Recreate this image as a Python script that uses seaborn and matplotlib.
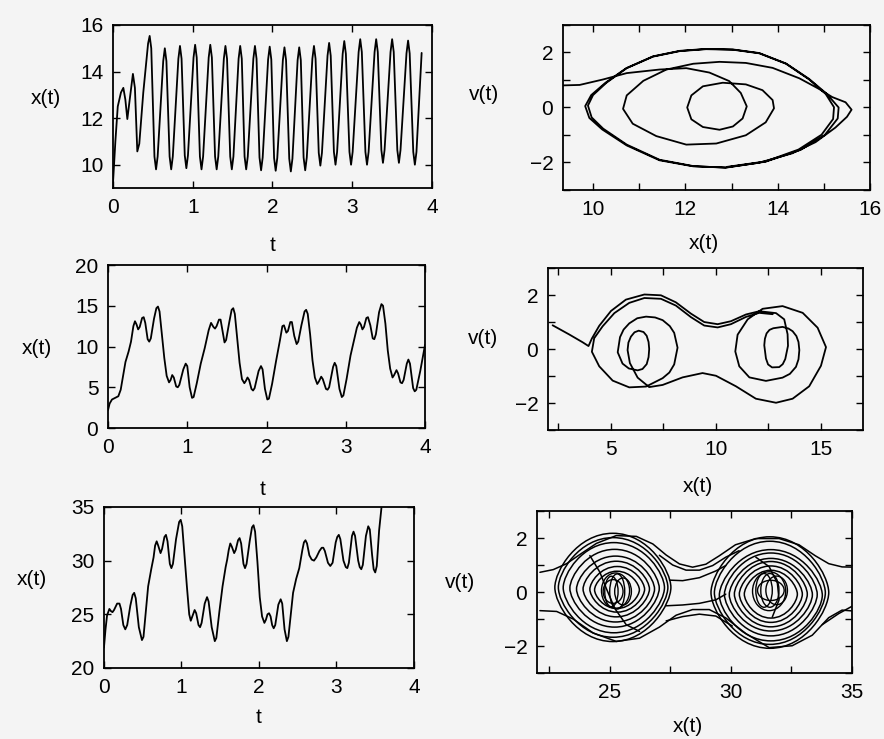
import matplotlib
matplotlib.use('Agg')
import matplotlib.pyplot as plt
import seaborn as sns
from matplotlib.patches import Ellipse, PathPatch
from matplotlib.path import Path
from matplotlib.ticker import MultipleLocator

# ---------------- data ----------------
# Panel A: x(t) time series (top left)
t_a = [0.0, 0.03, 0.06, 0.10, 0.13, 0.155, 0.18, 0.21, 0.25, 0.275, 0.305, 0.33, 0.38, 0.44, 0.46, 0.48,
       0.52, 0.54, 0.56, 0.63, 0.65, 0.67, 0.71, 0.73, 0.75, 0.82, 0.84, 0.86,
       0.90, 0.92, 0.94, 1.01, 1.03, 1.05, 1.09, 1.11, 1.13, 1.20, 1.22, 1.24,
       1.28, 1.30, 1.32, 1.39, 1.41, 1.43, 1.47, 1.49, 1.51, 1.575, 1.595, 1.615,
       1.65, 1.67, 1.69, 1.76, 1.78, 1.80, 1.837, 1.857, 1.877, 1.945, 1.965, 1.985,
       2.02, 2.04, 2.06, 2.13, 2.15, 2.17, 2.21, 2.23, 2.25, 2.315, 2.335, 2.355,
       2.39, 2.41, 2.43, 2.50, 2.52, 2.54, 2.58, 2.60, 2.62, 2.69, 2.71, 2.73,
       2.77, 2.79, 2.81, 2.88, 2.90, 2.92, 2.965, 2.985, 3.005, 3.08, 3.10, 3.12,
       3.165, 3.185, 3.205, 3.28, 3.30, 3.32, 3.365, 3.385, 3.405, 3.48, 3.50, 3.52,
       3.565, 3.585, 3.605, 3.68, 3.70, 3.72, 3.765, 3.785, 3.805, 3.87]
x_a = [9.2, 11.0, 12.5, 13.1, 13.3, 12.8, 11.96, 12.8, 13.9, 13.3, 10.57, 10.9, 13.1, 15.2, 15.53, 15.0,
       10.35, 9.8, 10.35, 14.45, 15.0, 14.45, 10.35, 9.8, 10.35, 14.55, 15.1, 14.55,
       10.4, 9.85, 10.4, 14.6, 15.15, 14.6, 10.35, 9.8, 10.35, 14.6, 15.15, 14.6,
       10.35, 9.8, 10.35, 14.55, 15.1, 14.55, 10.35, 9.8, 10.35, 14.55, 15.1, 14.55,
       10.35, 9.8, 10.35, 14.55, 15.1, 14.55, 10.31, 9.76, 10.31, 14.52, 15.07, 14.52,
       10.29, 9.74, 10.29, 14.49, 15.04, 14.49, 10.26, 9.71, 10.26, 14.49, 15.04, 14.49,
       10.31, 9.76, 10.31, 14.55, 15.1, 14.55, 10.51, 9.96, 10.51, 14.68, 15.23, 14.68,
       10.55, 10.0, 10.55, 14.76, 15.31, 14.76, 10.55, 10.0, 10.55, 14.84, 15.39, 14.84,
       10.55, 10.0, 10.55, 14.84, 15.39, 14.84, 10.63, 10.08, 10.63, 14.84, 15.39, 14.84,
       10.63, 10.08, 10.63, 14.78, 15.33, 14.78, 10.55, 10.0, 10.55, 14.8]

# Panel B: phase portrait (top right)
x_b = [9.28, 9.71, 10.22, 10.73, 11.44, 12.02, 12.52, 12.95, 13.2, 13.33,
       13.24, 13.03, 12.74, 12.38, 12.13, 12.04, 12.13, 12.38, 12.81, 13.31,
       13.67, 13.89, 13.92, 13.74, 13.31, 12.67, 12.02, 11.37, 10.86, 10.65,
       10.73, 11.09, 11.59, 12.17, 12.74, 13.31, 13.89, 14.47, 14.9, 15.18,
       15.47, 15.6, 15.5, 15.25, 14.82, 14.31, 13.59, 12.87, 12.17, 11.44,
       10.73, 10.2, 9.92, 9.83, 9.96, 10.27, 10.72, 11.3, 11.88, 12.45,
       13.03, 13.6, 14.18, 14.68, 15.06, 15.32, 15.3, 15.02, 14.5, 13.74,
       12.87, 12.17, 11.44, 10.73, 10.22, 9.97, 9.89, 10.0, 10.29, 10.73,
       11.3, 11.88, 12.45, 13.03, 13.6, 14.18, 14.68, 15.04, 15.22, 15.2,
       14.95, 14.45, 13.74, 12.9]
v_b = [0.80, 0.82, 1.02, 1.25, 1.38, 1.43, 1.27, 0.96, 0.53, 0.04,
       -0.40, -0.69, -0.81, -0.71, -0.43, 0.0, 0.44, 0.77, 0.90, 0.84,
       0.63, 0.27, -0.03, -0.54, -1.01, -1.31, -1.35, -1.04, -0.59, -0.05,
       0.44, 0.97, 1.38, 1.59, 1.66, 1.62, 1.44, 1.06, 0.67, 0.38,
       0.19, -0.08, -0.34, -0.73, -1.26, -1.67, -2.01, -2.18, -2.14, -1.92,
       -1.38, -0.80, -0.38, 0.05, 0.45, 0.90, 1.43, 1.86, 2.06, 2.13,
       2.11, 1.98, 1.60, 1.04, 0.50, 0.0, -0.40, -1.00, -1.54, -1.97,
       -2.19, -2.13, -1.90, -1.35, -0.77, -0.36, 0.07, 0.45, 0.90, 1.43,
       1.85, 2.05, 2.12, 2.10, 1.97, 1.59, 1.02, 0.49, 0.01, -0.42,
       -0.99, -1.53, -1.96, -2.16]

# Panel C: x(t) time series (middle left)
t_c = [0.00, 0.02, 0.05, 0.09, 0.13, 0.16, 0.19, 0.22, 0.26, 0.29,
       0.32, 0.34, 0.36, 0.38, 0.40, 0.43, 0.45, 0.47, 0.50, 0.52,
       0.54, 0.58, 0.61, 0.63, 0.65, 0.68, 0.71, 0.74, 0.77, 0.79,
       0.81, 0.83, 0.86, 0.88, 0.90, 0.95, 0.98, 1.00, 1.03, 1.06,
       1.08, 1.12, 1.17, 1.22, 1.27, 1.30, 1.33, 1.35, 1.37, 1.40,
       1.42, 1.45, 1.47, 1.49, 1.53, 1.56, 1.58, 1.60, 1.63, 1.66,
       1.69, 1.72, 1.74, 1.76, 1.78, 1.81, 1.83, 1.85, 1.90, 1.93,
       1.95, 1.98, 2.01, 2.03, 2.07, 2.12, 2.17, 2.20, 2.22, 2.25,
       2.27, 2.30, 2.32, 2.35, 2.38, 2.40, 2.44, 2.48, 2.50, 2.52,
       2.55, 2.58, 2.61, 2.64, 2.66, 2.69, 2.71, 2.75, 2.77, 2.79,
       2.84, 2.86, 2.88, 2.92, 2.95, 2.97, 3.01, 3.06, 3.10, 3.14,
       3.17, 3.19, 3.21, 3.23, 3.26, 3.28, 3.31, 3.34, 3.36, 3.38,
       3.42, 3.45, 3.47, 3.50, 3.53, 3.56, 3.59, 3.61, 3.64, 3.66,
       3.69, 3.71, 3.73, 3.77, 3.79, 3.81, 3.85, 3.87, 3.89, 3.94,
       4.0]
x_c = [2.2, 3.0, 3.5, 3.7, 3.9, 4.7, 6.4, 8.1, 9.4, 10.6,
       12.5, 13.1, 12.7, 12.1, 12.4, 13.5, 13.6, 12.9, 10.9, 10.6,
       11.0, 13.4, 14.7, 14.9, 14.3, 11.5, 8.6, 6.4, 5.6, 5.9,
       6.5, 6.2, 5.1, 5.0, 5.3, 7.2, 7.9, 7.6, 5.0, 3.7,
       3.8, 5.5, 7.9, 9.8, 12.0, 12.9, 12.4, 12.2, 12.5, 13.3,
       13.3, 11.6, 10.5, 10.8, 13.0, 14.5, 14.7, 14.0, 11.0, 8.0,
       6.0, 5.5, 5.8, 6.2, 5.9, 4.8, 4.6, 4.9, 7.0, 7.6,
       7.2, 4.8, 3.5, 3.6, 5.4, 8.2, 10.8, 12.5, 12.6, 11.7,
       11.9, 13.0, 13.0, 11.3, 10.3, 10.6, 12.6, 14.3, 14.5, 14.0,
       11.5, 8.3, 6.2, 5.4, 5.7, 6.3, 6.0, 4.8, 4.7, 5.0,
       7.5, 8.0, 7.6, 4.8, 3.8, 4.0, 6.0, 8.9, 10.6, 12.3,
       13.0, 12.7, 12.1, 12.4, 13.5, 13.6, 12.6, 11.0, 10.9, 11.5,
       14.2, 15.2, 15.0, 12.8, 9.5, 7.3, 6.2, 6.5, 7.1, 6.7,
       5.6, 5.5, 5.9, 7.9, 8.4, 7.9, 4.9, 4.5, 4.7, 7.0,
       10.2]

# Panel D: phase portrait (middle right)
x_d = [2.22, 3.01, 3.65, 3.93,
       4.09, 4.44, 5.0, 5.71, 6.59, 7.38, 8.09, 8.81, 9.44, 10.08,
       10.71, 11.43, 12.06, 12.86, 13.25, 13.41, 13.43, 13.3, 13.18, 13.01, 12.67, 12.48,
       12.38, 12.3, 12.33, 12.41, 12.55, 12.73, 13.17, 13.45, 13.65, 13.83, 13.93, 13.97, 13.93, 13.81, 13.52, 13.17,
       12.38, 11.59, 11.11, 10.92, 11.03, 11.51, 12.22, 13.17, 14.13, 14.84,
       15.24, 15.0, 14.44, 13.65, 12.86, 11.9, 10.95, 10.0, 9.36, 8.41,
       7.46, 6.82, 6.27, 5.9, 5.79, 5.83, 5.95, 6.12, 6.32, 6.55, 6.7, 6.79, 6.82, 6.79, 6.7, 6.5,
       6.27, 5.85, 5.55, 5.32, 5.43, 5.6, 5.87, 6.25, 6.67, 7.1, 7.46, 7.8, 8.01, 8.17, 8.01, 7.78,
       7.46, 6.67, 5.87, 5.08, 4.44, 4.09, 4.2, 4.6, 5.16, 5.87,
       6.59, 7.38, 8.09, 8.81, 9.44, 10.08, 10.71, 11.43, 12.06, 12.7]
v_d = [0.88, 0.54, 0.25, 0.11,
       0.39, 0.86, 1.41, 1.83, 2.02, 1.99, 1.73, 1.31, 1.0, 0.92,
       1.03, 1.28, 1.40, 1.33, 1.10, 0.55, 0.12, -0.37, -0.56, -0.67, -0.68, -0.57,
       -0.35, 0.14, 0.38, 0.58, 0.71, 0.77, 0.82, 0.76, 0.66, 0.48, 0.26, -0.04, -0.38, -0.66, -0.92, -1.06,
       -1.18, -1.05, -0.64, -0.09, 0.53, 1.10, 1.49, 1.59, 1.34, 0.79,
       0.07, -0.62, -1.38, -1.84, -1.99, -1.84, -1.38, -0.99, -0.89, -1.05,
       -1.33, -1.41, -1.06, -0.52, -0.04, 0.24, 0.46, 0.62, 0.68, 0.63, 0.49, 0.26, 0.0, -0.3, -0.56, -0.74,
       -0.79, -0.72, -0.54, -0.12, 0.44, 0.72, 0.95, 1.14, 1.20, 1.17, 1.07, 0.85, 0.60, 0.05, -0.57, -0.87,
       -1.08, -1.39, -1.42, -1.17, -0.64, -0.10, 0.40, 0.84, 1.33, 1.71,
       1.89, 1.86, 1.61, 1.18, 0.87, 0.80, 0.92, 1.19, 1.34, 1.29]

# Panel E: x(t) time series (bottom left)
t_e = [0.00, 0.02, 0.04, 0.07, 0.09, 0.11, 0.13, 0.17, 0.20, 0.22,
       0.25, 0.275, 0.30, 0.34, 0.37, 0.39, 0.41, 0.45, 0.49, 0.51,
       0.54, 0.57, 0.61, 0.64, 0.66, 0.68, 0.70, 0.73, 0.75, 0.78,
       0.80, 0.82, 0.85, 0.87, 0.89, 0.93, 0.97, 0.99, 1.01, 1.04,
       1.07, 1.10, 1.12, 1.15, 1.17, 1.19, 1.22, 1.24, 1.26, 1.30,
       1.33, 1.35, 1.39, 1.43, 1.45, 1.49, 1.53, 1.57, 1.59, 1.61,
       1.63, 1.65, 1.68, 1.70, 1.73, 1.75, 1.77, 1.80, 1.82, 1.84,
       1.88, 1.91, 1.93, 1.95, 1.98, 2.01, 2.04, 2.07, 2.09, 2.11,
       2.13, 2.15, 2.17, 2.19, 2.21, 2.25, 2.28, 2.30, 2.33, 2.36,
       2.38, 2.41, 2.44, 2.48, 2.52, 2.56, 2.58, 2.60, 2.62, 2.65,
       2.68, 2.71, 2.74, 2.78, 2.81, 2.83, 2.85, 2.89, 2.92, 2.95,
       2.99, 3.01, 3.03, 3.05, 3.09, 3.12, 3.14, 3.16, 3.20, 3.22,
       3.24, 3.28, 3.30, 3.32, 3.34, 3.38, 3.41, 3.43, 3.46, 3.48,
       3.50, 3.52, 3.55, 3.58]
x_e = [21.9, 23.6, 24.9, 25.5, 25.3, 25.2, 25.4, 26.0, 26.0, 25.5,
       24.0, 23.6, 24.0, 25.8, 26.8, 27.0, 26.5, 23.8, 22.6, 22.9,
       25.3, 27.6, 29.2, 30.3, 31.4, 31.8, 31.4, 30.7, 31.1, 32.2,
       32.4, 31.8, 29.7, 29.3, 29.7, 32.0, 33.6, 33.8, 33.2, 30.4,
       27.6, 25.0, 24.4, 25.0, 25.4, 25.1, 24.0, 23.8, 24.2, 26.0,
       26.6, 26.2, 23.8, 22.5, 22.8, 25.3, 27.6, 29.4, 30.1, 31.0,
       31.6, 31.3, 30.7, 31.0, 31.9, 32.1, 31.6, 29.7, 29.3, 29.7,
       31.8, 33.1, 33.3, 32.7, 29.9, 26.6, 24.8, 24.2, 24.5, 25.0,
       25.1, 24.8, 24.0, 23.7, 24.0, 25.9, 26.4, 26.0, 23.6, 22.5,
       22.9, 25.0, 27.0, 28.3, 29.3, 31.0, 31.7, 31.9, 31.6, 30.5,
       30.1, 30.0, 30.3, 30.9, 31.2, 31.2, 30.9, 29.8, 29.5, 29.8,
       31.7, 32.2, 32.4, 32.0, 30.0, 29.4, 29.3, 29.8, 32.3, 32.7,
       32.3, 30.0, 29.4, 29.2, 29.6, 32.3, 33.2, 32.9, 30.5, 29.2,
       28.9, 29.5, 32.8, 34.9]

# Panel F: chaotic phase portrait (bottom right)
# outer orbits (rounded diamonds): centre x, centre v, width, height
left_cx = [25.13, 25.14, 25.17, 25.20, 25.24, 25.27, 25.31, 25.30]
left_cv = [0.17, 0.17, 0.16, 0.14, 0.11, 0.11, 0.10, 0.08]
left_w = [4.79, 4.52, 4.18, 3.69, 3.22, 2.74, 2.26, 1.85]
left_h = [4.01, 3.69, 3.34, 2.88, 2.44, 2.06, 1.69, 1.38]
right_cx = [31.61, 31.61, 31.65, 31.65, 31.65, 31.65, 31.65, 31.65]
right_cv = [-0.02, -0.03, -0.12, -0.09, -0.10, -0.08, -0.08, -0.08]
right_w = [4.86, 4.58, 4.25, 3.83, 3.43, 3.01, 2.60, 2.19]
right_h = [4.13, 3.82, 3.38, 3.07, 2.69, 2.42, 2.09, 1.77]
# inner small orbits (ellipses)
inL_cx = [25.24, 25.07, 25.31, 25.55, 25.14]
inL_cv = [0.05, 0.02, 0.02, 0.02, 0.02]
inL_w = [1.16, 0.55, 0.62, 0.69, 0.82]
inL_h = [1.31, 1.13, 1.30, 1.00, 0.88]
inR_cx = [31.58, 31.37, 31.61, 31.89, 31.65]
inR_cv = [0.03, 0.06, 0.06, 0.06, 0.06]
inR_w = [1.37, 0.68, 0.75, 0.89, 1.10]
inR_h = [1.44, 1.25, 1.25, 1.06, 0.75]
# transit branches
top_x = [22.12, 22.67, 23.22, 23.77, 24.45, 25.27, 26.1, 26.78, 27.33, 27.88, 28.42,
         28.97, 29.52, 30.19, 31.03, 31.99, 32.81, 33.49, 34.04, 34.59, 35.14]
top_v = [0.73, 0.83, 1.05, 1.39, 1.80, 2.09, 2.06, 1.78, 1.37, 1.04, 0.92,
         1.03, 1.34, 1.75, 1.98, 1.98, 1.75, 1.34, 1.05, 0.93, 0.92]
bot_x = [22.12, 22.81, 23.49, 24.32, 25.27, 26.23, 27.05, 27.74, 28.42, 29.11,
         29.79, 30.62, 31.58, 32.53, 33.36, 34.04, 34.59, 35.14]
bot_v = [-0.69, -0.72, -1.0, -1.52, -1.83, -1.71, -1.30, -0.86, -0.65, -0.65,
         -0.96, -1.54, -2.06, -1.99, -1.60, -0.95, -0.67, -0.71]
neck1_x = [27.05, 27.6, 28.15, 28.7, 29.25, 29.79, 30.34]
neck1_v = [1.36, 1.0, 0.81, 0.81, 0.98, 1.29, 1.53]
neck2_x = [27.47, 28.01, 28.7, 29.38, 29.79]
neck2_v = [0.44, 0.42, 0.53, 0.78, 0.98]
neck3_x = [27.33, 28.01, 28.7, 29.38, 29.79]
neck3_v = [-0.51, -0.48, -0.42, -0.29, -0.08]
neck4_x = [27.33, 28.01, 28.7, 29.38, 30.06]
neck4_v = [-1.07, -0.91, -0.82, -0.89, -1.26]
exit_x = [33.77, 34.45, 35.14]
exit_v = [-1.21, -0.80, -0.46]
arcL_x = [24.18, 24.59, 24.86, 25.21, 25.68, 26.23]
arcL_v = [1.35, 0.74, 0.13, -0.61, -1.21, -1.46]
arcR_x = [31.03, 31.58, 31.92, 31.99, 31.71]
arcR_v = [1.29, 0.94, 0.33, -0.29, -0.93]

# ---------------- figure ----------------
BG = '#f4f4f4'
sns.set_theme(style='ticks')
plt.rcParams['font.family'] = ['Liberation Sans', 'DejaVu Sans']
plt.rcParams['axes.linewidth'] = 1.3
plt.rcParams['axes.edgecolor'] = 'black'

fig = plt.figure(figsize=(8.84, 7.39), dpi=100, facecolor=BG)

axA = fig.add_axes([0.1278, 0.7456, 0.3609, 0.2206])
axB = fig.add_axes([0.6369, 0.7429, 0.3473, 0.2233])
axC = fig.add_axes([0.1222, 0.4208, 0.3586, 0.2206])
axD = fig.add_axes([0.6199, 0.4181, 0.3563, 0.2192])
axE = fig.add_axes([0.1176, 0.0961, 0.3507, 0.2179])
axF = fig.add_axes([0.6075, 0.0893, 0.3563, 0.2192])

LW = 1.3


def style(ax, xlim, ylim, xmaj, xmin, ymaj, ymin, xlabel, xlc, ylabel, ylc):
    ax.set_facecolor(BG)
    ax.set_xlim(*xlim)
    ax.set_ylim(*ylim)
    ax.xaxis.set_major_locator(MultipleLocator(xmaj))
    ax.xaxis.set_minor_locator(MultipleLocator(xmin))
    ax.yaxis.set_major_locator(MultipleLocator(ymaj))
    ax.yaxis.set_minor_locator(MultipleLocator(ymin))
    ax.tick_params(which='both', direction='in', top=True, right=True,
                   length=5, width=1.0, color='black', labelsize=15,
                   labelcolor='black', pad=7)
    for s in ax.spines.values():
        s.set_visible(True)
        s.set_linewidth(1.3)
        s.set_color('black')
    ax.set_xlabel(xlabel, fontsize=15, color='black')
    ax.xaxis.set_label_coords(*xlc)
    ax.xaxis.label.set_verticalalignment('center')
    ax.set_ylabel(ylabel, fontsize=15, color='black', rotation=0)
    ax.yaxis.set_label_coords(*ylc)
    ax.yaxis.label.set_horizontalalignment('right')
    ax.yaxis.label.set_verticalalignment('center')


def orbit(ax, cx, cv, w, h, lw=1.1):
    """Closed orbit shaped as a rounded diamond (pointed left/right turning points)."""
    a, b = w / 2.0, h / 2.0
    k1, k2 = 0.62, 0.30
    verts = [(cx - a, cv),
             (cx - a, cv + k2 * b), (cx - k1 * a, cv + b), (cx, cv + b),
             (cx + k1 * a, cv + b), (cx + a, cv + k2 * b), (cx + a, cv),
             (cx + a, cv - k2 * b), (cx + k1 * a, cv - b), (cx, cv - b),
             (cx - k1 * a, cv - b), (cx - a, cv - k2 * b), (cx - a, cv)]
    codes = [Path.MOVETO] + [Path.CURVE4] * 12
    ax.add_patch(PathPatch(Path(verts, codes), fill=False, ec='black', lw=lw))


# time series
sns.lineplot(x=t_a, y=x_a, ax=axA, color='black', lw=LW, sort=False, estimator=None)
sns.lineplot(x=t_c, y=x_c, ax=axC, color='black', lw=LW, sort=False, estimator=None)
sns.lineplot(x=t_e, y=x_e, ax=axE, color='black', lw=LW, sort=False, estimator=None)

# phase portraits
sns.lineplot(x=x_b, y=v_b, ax=axB, color='black', lw=LW, sort=False, estimator=None)
sns.lineplot(x=x_d, y=v_d, ax=axD, color='black', lw=LW, sort=False, estimator=None)

for cx, cv, w, h in zip(left_cx, left_cv, left_w, left_h):
    orbit(axF, cx, cv, w, h)
for cx, cv, w, h in zip(right_cx, right_cv, right_w, right_h):
    orbit(axF, cx, cv, w, h)
for cx, cv, w, h in zip(inL_cx + inR_cx, inL_cv + inR_cv, inL_w + inR_w, inL_h + inR_h):
    axF.add_patch(Ellipse((cx, cv), w, h, fill=False, ec='black', lw=1.0))
for xs, vs in [(top_x, top_v), (bot_x, bot_v), (neck1_x, neck1_v),
               (neck2_x, neck2_v), (neck3_x, neck3_v), (neck4_x, neck4_v),
               (exit_x, exit_v), (arcL_x, arcL_v), (arcR_x, arcR_v)]:
    sns.lineplot(x=xs, y=vs, ax=axF, color='black', lw=1.1, sort=False, estimator=None)

style(axA, (0, 4), (9, 16), 1, 1, 2, 2, 't', (0.5, -0.35), 'x(t)', (-0.163, 0.552))
style(axB, (9.35, 16), (-3, 3), 2, 1, 2, 1, 'x(t)', (0.46, -0.327), 'v(t)', (-0.207, 0.576))
style(axC, (0, 4), (0, 20), 1, 1, 5, 5, 't', (0.489, -0.38), 'x(t)', (-0.177, 0.49))
style(axD, (2, 17), (-3, 3), 5, 2.5, 2, 1, 'x(t)', (0.476, -0.35), 'v(t)', (-0.159, 0.568))
style(axE, (0, 4), (20, 35), 1, 1, 5, 5, 't', (0.5, -0.31), 'x(t)', (-0.184, 0.547))
style(axF, (22, 35), (-3, 3), 5, 2.5, 2, 1, 'x(t)', (0.479, -0.333), 'v(t)', (-0.197, 0.56))

fig.savefig('out.png', dpi=100, facecolor=BG)
